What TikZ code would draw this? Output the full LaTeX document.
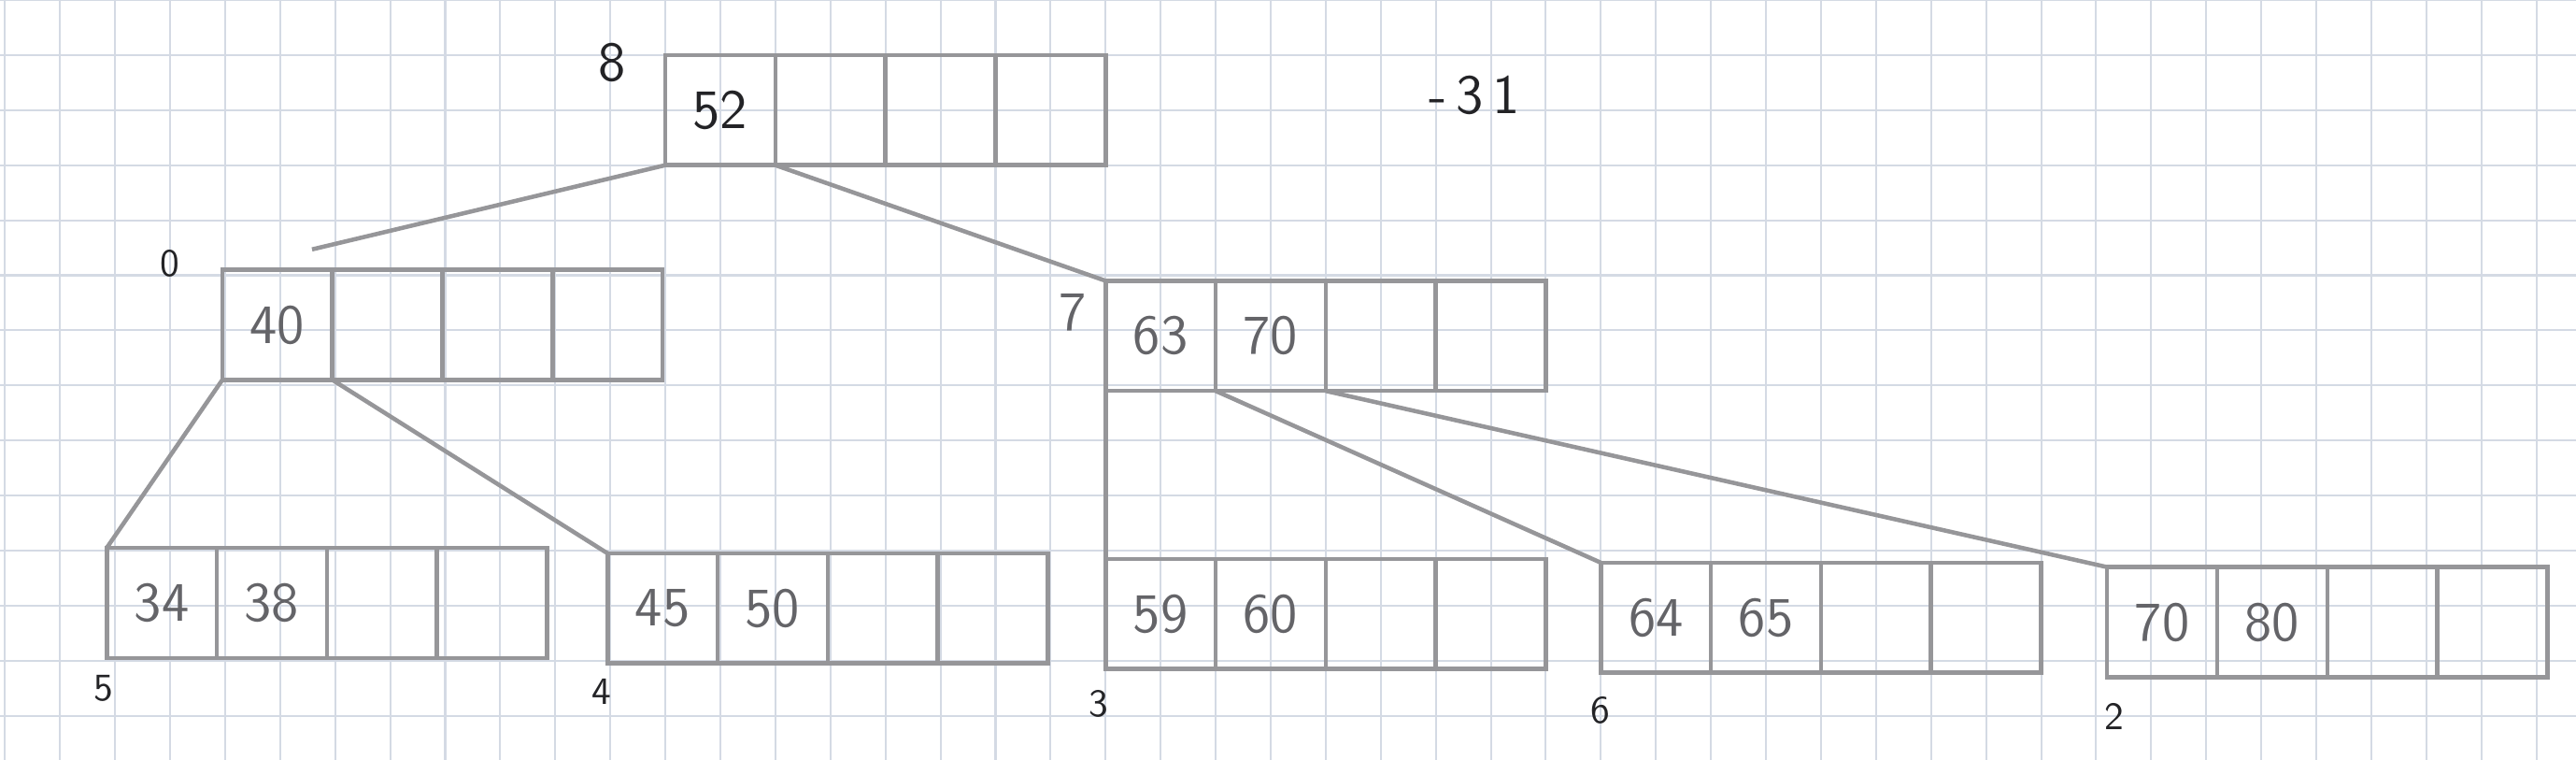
\documentclass[tikz,border=0pt]{standalone}
\usetikzlibrary{positioning}
\definecolor{pencil}{RGB}{150,150,153}
\definecolor{lead}{RGB}{100,100,104}
\definecolor{ink}{RGB}{35,35,38}
\definecolor{paper}{RGB}{212,218,228}

\begin{document}
\begin{tikzpicture}[x=0.5cm,y=0.5cm,node distance=0pt,
	cell/.style={draw=pencil,line width=1.1pt,minimum width=1cm,minimum height=1cm,inner sep=0pt,outer sep=0pt,font=\Large\sffamily,text=lead},
	wire/.style={draw=pencil,line width=1.1pt},
	tag/.style={font=\sffamily,text=ink},
	bigtag/.style={font=\Large\sffamily,text=ink}]
		\useasboundingbox (-0.09,0) rectangle (46.72,-13.8);
		\draw[paper,line width=0.5pt,step=0.5cm] (-0.09,0) grid (46.72,-13.8);
		\node[cell,anchor=north west,text=ink] (p8a) at (12,-1) {52};
		\node[cell,right=of p8a] (p8b) {};
		\node[cell,right=of p8b] (p8c) {};
		\node[cell,right=of p8c] (p8d) {};
		\node[cell,anchor=north west] (p0a) at (3.95,-4.9) {40};
		\node[cell,right=of p0a] (p0b) {};
		\node[cell,right=of p0b] (p0c) {};
		\node[cell,right=of p0c] (p0d) {};
		\node[cell,anchor=north west] (p7a) at (20,-5.1) {63};
		\node[cell,right=of p7a] (p7b) {70};
		\node[cell,right=of p7b] (p7c) {};
		\node[cell,right=of p7c] (p7d) {};
		\node[cell,anchor=north west] (p5a) at (1.85,-9.95) {34};
		\node[cell,right=of p5a] (p5b) {38};
		\node[cell,right=of p5b] (p5c) {};
		\node[cell,right=of p5c] (p5d) {};
		\node[cell,anchor=north west] (p4a) at (10.95,-10.05) {45};
		\node[cell,right=of p4a] (p4b) {50};
		\node[cell,right=of p4b] (p4c) {};
		\node[cell,right=of p4c] (p4d) {};
		\node[cell,anchor=north west] (p3a) at (20,-10.15) {59};
		\node[cell,right=of p3a] (p3b) {60};
		\node[cell,right=of p3b] (p3c) {};
		\node[cell,right=of p3c] (p3d) {};
		\node[cell,anchor=north west] (p6a) at (29,-10.22) {64};
		\node[cell,right=of p6a] (p6b) {65};
		\node[cell,right=of p6b] (p6c) {};
		\node[cell,right=of p6c] (p6d) {};
		\node[cell,anchor=north west] (p2a) at (38.2,-10.3) {70};
		\node[cell,right=of p2a] (p2b) {80};
		\node[cell,right=of p2b] (p2c) {};
		\node[cell,right=of p2c] (p2d) {};
		\coordinate (p0top) at (5.58,-4.53);
		\draw[wire] (p8a.south west) -- (p0top);
		\draw[wire] (p8a.south east) -- (p7a.north west);
		\draw[wire] (p0a.south west) -- (p5a.north west);
		\draw[wire] (p0a.south east) -- (p4a.north west);
		\draw[wire] (p7a.south west) -- (p3a.north west);
		\draw[wire] (p7a.south east) -- (p6a.north west);
		\draw[wire] (p7b.south east) -- (p2a.north west);
		\node[bigtag] (t8) at (11.04,-1.13) {8};
		\node[bigtag] (t31) at (26.7,-1.73) {-\,3\,1};
		\node[tag] (t0) at (2.99,-4.78) {0};
		\node[bigtag,text=lead] (t7) at (19.4,-5.67) {7};
		\node[tag] (t5) at (1.79,-12.5) {5};
		\node[tag] (t4) at (10.84,-12.57) {4};
		\node[tag] (t3) at (19.88,-12.78) {3};
		\node[tag] (t6) at (28.99,-12.9) {6};
		\node[tag] (t2) at (38.33,-13.01) {2};
	\end{tikzpicture}
\end{document}
